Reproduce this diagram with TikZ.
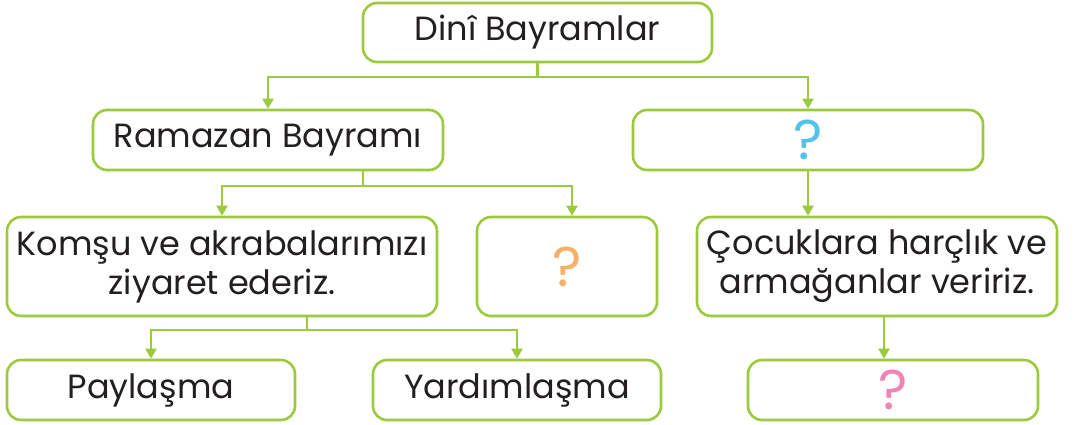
\documentclass[tikz,border=0pt]{standalone}
\usepackage{fontspec}
\setmainfont{Poppins}
\usetikzlibrary{arrows.meta,positioning,calc}
\definecolor{ink}{HTML}{231F20}
\definecolor{leaf}{HTML}{9BCB3C}
\definecolor{qcyan}{HTML}{35B8E8}
\definecolor{qorange}{HTML}{F7A24B}
\definecolor{qpink}{HTML}{EE6FA8}
\tikzset{
  every node/.style={text=ink},
  box/.style={
    draw=leaf,
    fill=white,
    rounded corners=14pt,
    line width=2.6pt,
    align=center,
    inner sep=0pt,
    font=\fontsize{33.5}{39}\selectfont
  },
  link/.style={draw=leaf, line width=2.2pt},
  arrow/.style={link, -{Triangle[width=11pt,length=10pt]}},
  quest/.style={font=\fontsize{56}{56}\selectfont, inner sep=0pt}
}
\begin{document}
\begin{tikzpicture}[x=1pt,y=-1pt]
  \useasboundingbox (0,0) rectangle (1078,425);

  % Boxes
  \node[box, minimum width=349pt, minimum height=59pt] (top) at (537.5,32.5) {Dinî Bayramlar};
  \node[box, minimum width=350pt, minimum height=60pt] (ram) at (268,140) {Ramazan Bayramı};
  \node[box, minimum width=350pt, minimum height=60pt] (qa) at (808,140) {};
  \node[box, minimum width=430pt, minimum height=99pt] (visit) at (222,266.5) {Komşu ve akrabalarımızı\\ziyaret ederiz.};
  \node[box, minimum width=180pt, minimum height=99pt] (qb) at (567,266.5) {};
  \node[box, minimum width=360pt, minimum height=99pt] (gift) at (877,266.5) {Çocuklara harçlık ve\\armağanlar veririz.};
  \node[box, minimum width=288pt, minimum height=60pt] (share) at (151,390) {Paylaşma};
  \node[box, minimum width=288pt, minimum height=60pt] (help) at (517,390) {Yardımlaşma};
  \node[box, minimum width=290pt, minimum height=60pt] (qc) at (893,390) {};

  % Question marks
  \node[quest, text=qcyan!85] (qmA) at (qa) {?};
  \node[quest, text=qorange!85] (qmB) at (qb) {?};
  \node[quest, text=qpink!85] (qmC) at (qc) {?};

  % Junctions
  \coordinate (j1) at (537.5,77);
  \coordinate (j2) at (363,186);
  \coordinate (j3) at (307,330);

  % Connectors
  \draw[link] (top.south) -- (j1);
  \draw[arrow] (j1) -| (ram.north);
  \draw[arrow] (j1) -| (qa.north);
  \draw[link] (j2 |- ram.south) -- (j2);
  \draw[arrow] (j2) -| (visit.north);
  \draw[arrow] (j2) -| ($(qb.north)+(5,0)$);
  \draw[arrow] (qa.south) -- (qa.south |- gift.north);
  \draw[link] (j3 |- visit.south) -- (j3);
  \draw[arrow] (j3) -| (share.north);
  \draw[arrow] (j3) -| (help.north);
  \draw[arrow] ($(gift.south)+(7,0)$) -- ($(qc.north)+(-9,0)$);
\end{tikzpicture}
\end{document}
